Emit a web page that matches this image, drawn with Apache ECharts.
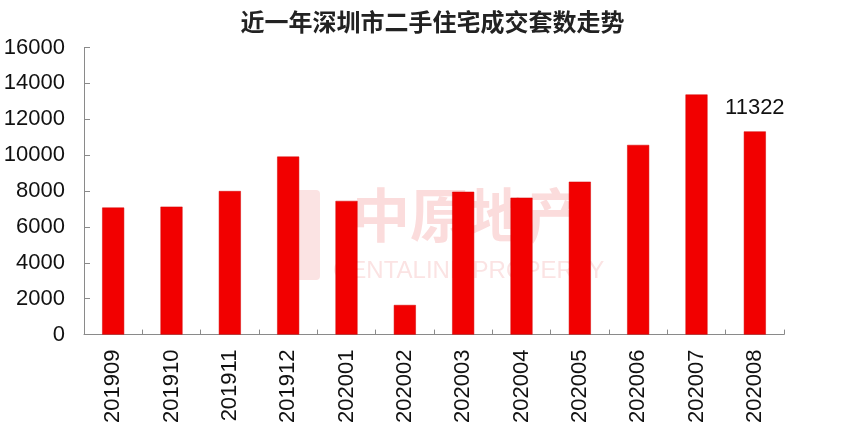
<!DOCTYPE html>
<html>
<head>
<meta charset="utf-8">
<script src="https://cdn.jsdelivr.net/npm/echarts@6/dist/echarts.min.js"></script>
<style>html,body{margin:0;padding:0;background:#fff}#c{width:865px;height:426px}</style>
</head>
<body>
<div id="c"></div>
<script>
const titleText = '近一年深圳市二手住宅成交套数走势';
const categories = ['201909','201910','201911','201912','202001','202002','202003','202004','202005','202006','202007','202008'];
const values = [7080, 7130, 8000, 9920, 7450, 1650, 7960, 7630, 8520, 10570, 13380, 11322];
const labeledIndex = 11;
const yTicks = { min: 0, max: 16000, interval: 2000 };

const chart = echarts.init(document.getElementById('c'));
const seriesData = values.map((v, i) => i === labeledIndex
  ? { value: v, label: { show: true, position: 'top', distance: 12, color: '#111', fontSize: 22, fontFamily: 'Liberation Sans' } }
  : v);

chart.setOption({
  backgroundColor: '#fff',
  animation: false,
  title: {
    text: titleText, left: 'center', top: 5,
    textStyle: { fontFamily: 'Noto Sans CJK SC', fontSize: 24, fontWeight: 'bold', color: '#222' }
  },
  graphic: [
    { type: 'rect', left: 288, top: 190, shape: { width: 32, height: 90, r: 4 }, style: { fill: '#fbe3e3' }, z: 0 },
    { type: 'text', left: 352, top: 186, style: { text: '中原地产', fontSize: 58, fontWeight: 'bold', fontFamily: 'Noto Sans CJK SC', fill: '#fbdcdc' }, z: 0 },
    { type: 'text', left: 333, top: 259, style: { text: 'CENTALINE PROPERTY', fontSize: 24, fontFamily: 'Liberation Sans', fill: '#fbe3e3' }, z: 0 }
  ],
  grid: { left: 84, right: 81, top: 47.5, bottom: 90 },
  xAxis: {
    type: 'category', data: categories,
    axisLine: { lineStyle: { color: '#8a8a8a', width: 1 } },
    axisTick: { show: true, inside: true, length: 5, lineStyle: { color: '#8a8a8a' } },
    axisLabel: { rotate: 90, margin: 15, fontSize: 22, color: '#111', fontFamily: 'Liberation Sans' }
  },
  yAxis: {
    type: 'value', min: yTicks.min, max: yTicks.max, interval: yTicks.interval,
    splitLine: { show: false },
    axisLine: { show: true, lineStyle: { color: '#8a8a8a', width: 1 } },
    axisTick: { show: true, inside: true, length: 6, lineStyle: { color: '#8a8a8a' } },
    axisLabel: { margin: 19, fontSize: 22, color: '#111', fontFamily: 'Liberation Sans', formatter: v => String(v) }
  },
  series: [{
    type: 'bar', data: seriesData, barWidth: 22, z: 2,
    itemStyle: { color: '#f20000', borderColor: '#d40000', borderWidth: 0.5 }
  }]
});
</script>
</body>
</html>
